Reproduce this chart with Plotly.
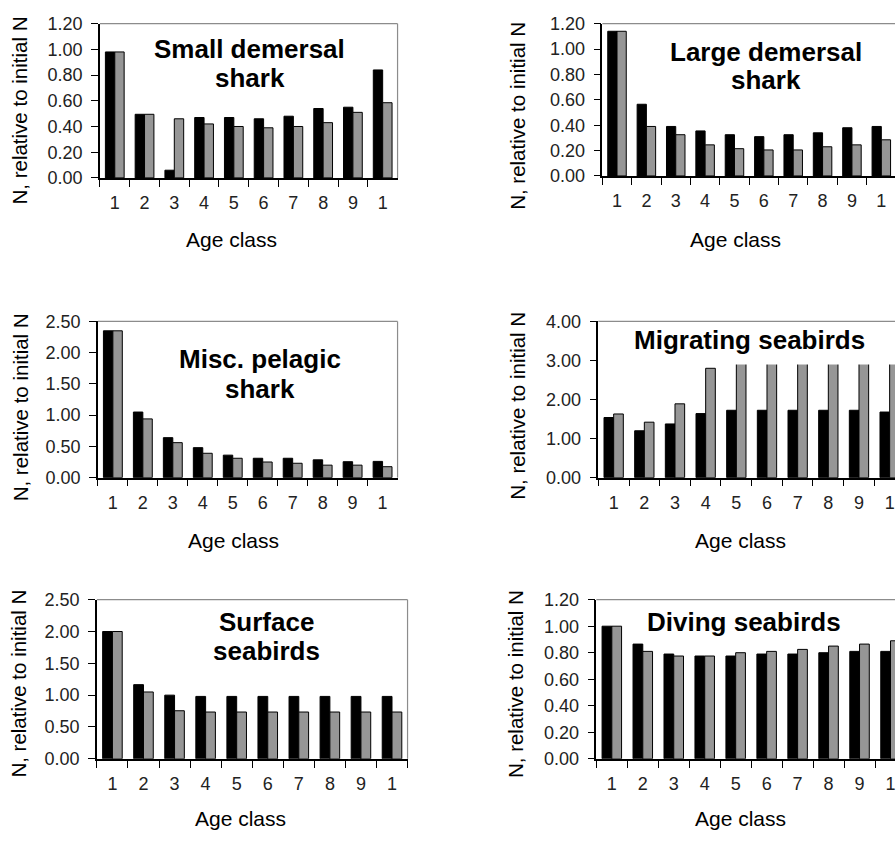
import plotly.graph_objects as go

# ---------------- data ----------------
age_classes = ["1", "2", "3", "4", "5", "6", "7", "8", "9", "10"]
age_tick_labels = ["1", "2", "3", "4", "5", "6", "7", "8", "9", "1"]

small_demersal_black = [0.98, 0.495, 0.06, 0.47, 0.47, 0.46, 0.48, 0.54, 0.55, 0.84]
small_demersal_grey = [0.98, 0.495, 0.46, 0.42, 0.40, 0.39, 0.40, 0.43, 0.51, 0.585]

large_demersal_black = [1.14, 0.565, 0.39, 0.355, 0.325, 0.31, 0.325, 0.34, 0.38, 0.39]
large_demersal_grey = [1.14, 0.39, 0.325, 0.245, 0.215, 0.205, 0.205, 0.23, 0.245, 0.285]

misc_pelagic_black = [2.35, 1.05, 0.64, 0.48, 0.36, 0.31, 0.31, 0.285, 0.255, 0.26]
misc_pelagic_grey = [2.35, 0.94, 0.56, 0.39, 0.31, 0.25, 0.23, 0.20, 0.20, 0.175]

migrating_black = [1.54, 1.20, 1.375, 1.64, 1.725, 1.725, 1.725, 1.725, 1.725, 1.68]
migrating_grey = [1.63, 1.42, 1.89, 2.80, 3.30, 3.30, 3.30, 3.30, 3.30, 3.30]

surface_black = [2.00, 1.165, 1.00, 0.98, 0.98, 0.98, 0.98, 0.98, 0.98, 0.98]
surface_grey = [2.00, 1.05, 0.755, 0.735, 0.735, 0.735, 0.735, 0.735, 0.735, 0.735]

diving_black = [1.00, 0.865, 0.79, 0.775, 0.775, 0.79, 0.79, 0.80, 0.81, 0.81]
diving_grey = [1.00, 0.81, 0.775, 0.775, 0.80, 0.81, 0.825, 0.85, 0.865, 0.89]

panel_titles = [["Small demersal", "shark"], ["Large demersal", "shark"],
                ["Misc. pelagic", "shark"], ["Migrating seabirds"],
                ["Surface", "seabirds"], ["Diving seabirds"]]
y_title = "N, relative to initial N"
x_title = "Age class"

series = [
    (small_demersal_black, small_demersal_grey),
    (large_demersal_black, large_demersal_grey),
    (misc_pelagic_black, misc_pelagic_grey),
    (migrating_black, migrating_grey),
    (surface_black, surface_grey),
    (diving_black, diving_grey),
]

# ---------------- layout geometry (pixels) ----------------
W, H = 896, 843
FONT = "Liberation Sans, Arial, sans-serif"


def px(x):
    return x / W


def py(y):
    return 1 - y / H


panels = [
    dict(x0=100, x1=398, yt=14, yb=172, ymax=1.2, dtick=0.2, cat=29.8,
         tx=250, ty=[40, 70], ytit=(20, 103), xtit=(232, 235)),
    dict(x0=603, x1=896, yt=14, yb=170, ymax=1.2, dtick=0.2, cat=29.4,
         tx=767, ty=[43, 72], ytit=(518, 108), xtit=(736, 235)),
    dict(x0=98, x1=398, yt=319, yb=479, ymax=2.5, dtick=0.5, cat=30.0,
         tx=260, ty=[357, 388], ytit=(20, 407), xtit=(234, 543)),
    dict(x0=599, x1=896, yt=319, yb=479, ymax=4.0, dtick=1.0, cat=30.7,
         tx=750, ty=[338], ytit=(518, 405), xtit=(741, 543)),
    dict(x0=97, x1=408, yt=604, yb=767, ymax=2.5, dtick=0.5, cat=31.1,
         tx=267, ty=[627, 657], ytit=(19, 690), xtit=(241, 828)),
    dict(x0=597, x1=896, yt=604, yb=767, ymax=1.2, dtick=0.2, cat=31.0,
         tx=745, ty=[627], ytit=(516, 690), xtit=(741, 828)),
]

fig = go.Figure()
layout = dict(
    width=W, height=H, margin=dict(l=0, r=0, t=0, b=0),
    paper_bgcolor="white", plot_bgcolor="white",
    showlegend=False, barmode="group", bargap=0.37, bargroupgap=0.0,
    font=dict(family=FONT, color="black"),
)
annotations = []
shapes = []

for i, (p, (blk, gry)) in enumerate(zip(panels, series)):
    n = i + 1
    xa = "x" if n == 1 else f"x{n}"
    ya = "y" if n == 1 else f"y{n}"
    xkey = "xaxis" if n == 1 else f"xaxis{n}"
    ykey = "yaxis" if n == 1 else f"yaxis{n}"
    fig.add_trace(go.Bar(x=age_classes, y=blk, xaxis=xa, yaxis=ya,
                         marker=dict(color="black", line=dict(color="black", width=1)),
                         offsetgroup="a", name="black"))
    fig.add_trace(go.Bar(x=age_classes, y=gry, xaxis=xa, yaxis=ya,
                         marker=dict(color="#969696", line=dict(color="black", width=1)),
                         offsetgroup="b", name="grey"))
    x_end = -0.5 + (p["x1"] - p["x0"]) / p["cat"]
    layout[xkey] = dict(
        domain=[px(p["x0"]), px(p["x1"])], anchor=ya, type="category",
        range=[-0.5, x_end], tickson="boundaries", ticks="outside", ticklen=7,
        tickwidth=1.2, tickcolor="black", showline=True, linecolor="black",
        linewidth=1.5, showgrid=False, zeroline=False,
        tickmode="array", tickvals=age_classes, ticktext=age_tick_labels,
        tickfont=dict(size=18, color="#222222", family=FONT),
        ticklabelstandoff=8, fixedrange=True,
    )
    layout[ykey] = dict(
        domain=[py(p["yb"]), py(p["yt"])], anchor=xa,
        range=[0, p["ymax"]], dtick=p["dtick"], tick0=0, tickformat=".2f",
        ticks="outside", ticklen=7, tickwidth=1.2, tickcolor="black",
        showline=True, linecolor="black", linewidth=1.5, showgrid=False,
        zeroline=False, tickfont=dict(size=18, color="#222222", family=FONT),
        ticklabelstandoff=5, fixedrange=True,
    )
    # grey frame on top / right
    shapes.append(dict(type="line", xref=f"{xa} domain", yref=f"{ya} domain",
                       x0=0, x1=1, y0=1, y1=1, line=dict(color="#8c8c8c", width=1.2)))
    if p["x1"] < W:
        shapes.append(dict(type="line", xref=f"{xa} domain", yref=f"{ya} domain",
                           x0=1, x1=1, y0=0, y1=1, line=dict(color="#8c8c8c", width=1.2)))
    for line_text, ly in zip(panel_titles[i], p["ty"]):
        annotations.append(dict(text=f"<b>{line_text}</b>", x=px(p["tx"]), y=py(ly),
                                xref="paper", yref="paper", showarrow=False,
                                xanchor="center", yanchor="middle",
                                font=dict(size=26, family=FONT, color="black")))
    yx, yy = p["ytit"]
    annotations.append(dict(text=y_title, x=px(yx), y=py(yy), xref="paper",
                            yref="paper", showarrow=False, textangle=-90,
                            xanchor="center", yanchor="middle",
                            font=dict(size=20.5, family=FONT, color="black")))
    xx, xy = p["xtit"]
    annotations.append(dict(text=x_title, x=px(xx), y=py(xy), xref="paper",
                            yref="paper", showarrow=False, xanchor="center",
                            yanchor="middle",
                            font=dict(size=21, family=FONT, color="black")))

# white text box of the "Migrating seabirds" panel that hides the tall grey bars
shapes.append(dict(type="rect", xref="x4 domain", yref="y4", x0=0.02, x1=1.0,
                   y0=2.9, y1=3.96, fillcolor="white", line=dict(width=0),
                   layer="above"))

layout["annotations"] = annotations
layout["shapes"] = shapes
fig.update_layout(**layout)
fig.write_html("out.html")
